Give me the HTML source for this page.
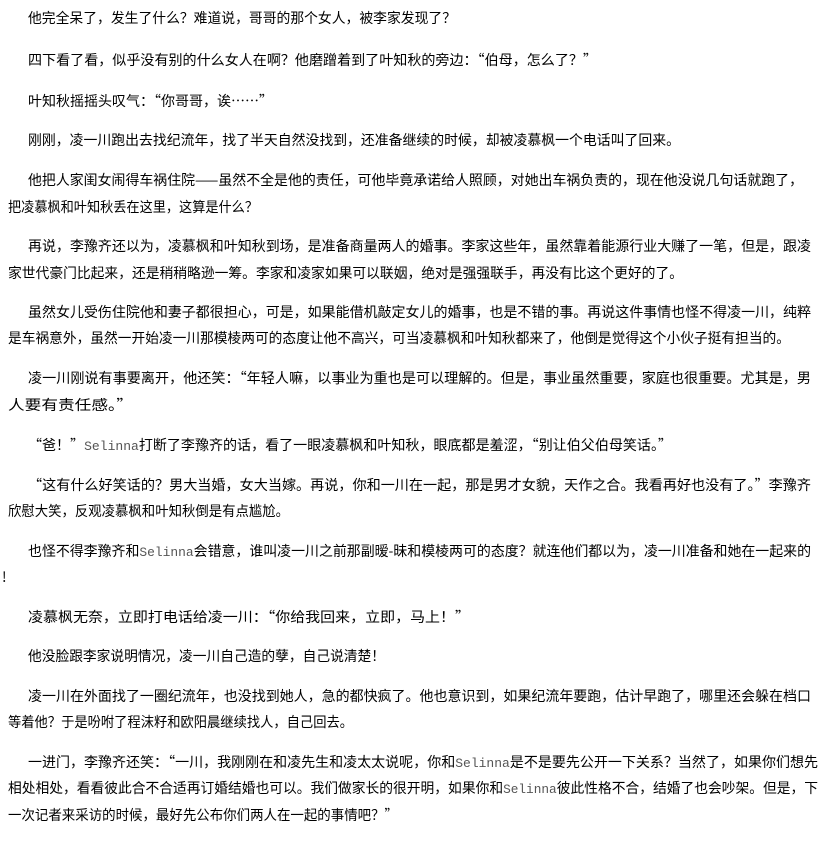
<!DOCTYPE html>
<html><head><meta charset="utf-8"><style>
html,body{margin:0;padding:0;background:#fff;width:835px;height:845px;overflow:hidden}
svg{display:block}
text{font-family:"Noto Sans CJK SC","WenQuanYi Zen Hei",sans-serif;font-size:14px;fill:#000}
.s{font-family:"Liberation Mono",monospace;font-size:13px;fill:#555}
</style></head><body>
<svg width="835" height="845" xmlns="http://www.w3.org/2000/svg">
<text x="28" y="23" textLength="428" lengthAdjust="spacingAndGlyphs">他完全呆了，发生了什么？难道说，哥哥的那个女人，被李家发现了？</text>
<text x="28" y="65" textLength="569" lengthAdjust="spacingAndGlyphs">四下看了看，似乎没有别的什么女人在啊？他磨蹭着到了叶知秋的旁边：“伯母，怎么了？”</text>
<text x="28" y="106" textLength="245" lengthAdjust="spacingAndGlyphs">叶知秋摇摇头叹气：“你哥哥，诶……”</text>
<text x="28" y="145" textLength="652" lengthAdjust="spacingAndGlyphs">刚刚，凌一川跑出去找纪流年，找了半天自然没找到，还准备继续的时候，却被凌慕枫一个电话叫了回来。</text>
<text x="28" y="185" textLength="775" lengthAdjust="spacingAndGlyphs">他把人家闺女闹得车祸住院——虽然不全是他的责任，可他毕竟承诺给人照顾，对她出车祸负责的，现在他没说几句话就跑了，</text>
<text x="8" y="212" textLength="250" lengthAdjust="spacingAndGlyphs">把凌慕枫和叶知秋丢在这里，这算是什么？</text>
<text x="28" y="251" textLength="783" lengthAdjust="spacingAndGlyphs">再说，李豫齐还以为，凌慕枫和叶知秋到场，是准备商量两人的婚事。李家这些年，虽然靠着能源行业大赚了一笔，但是，跟凌</text>
<text x="8" y="278" textLength="675" lengthAdjust="spacingAndGlyphs">家世代豪门比起来，还是稍稍略逊一筹。李家和凌家如果可以联姻，绝对是强强联手，再没有比这个更好的了。</text>
<text x="28" y="317" textLength="783" lengthAdjust="spacingAndGlyphs">虽然女儿受伤住院他和妻子都很担心，可是，如果能借机敲定女儿的婚事，也是不错的事。再说这件事情也怪不得凌一川，纯粹</text>
<text x="8" y="343" textLength="782" lengthAdjust="spacingAndGlyphs">是车祸意外，虽然一开始凌一川那模棱两可的态度让他不高兴，可当凌慕枫和叶知秋都来了，他倒是觉得这个小伙子挺有担当的。</text>
<text x="28" y="383" textLength="783" lengthAdjust="spacingAndGlyphs">凌一川刚说有事要离开，他还笑：“年轻人嘛，以事业为重也是可以理解的。但是，事业虽然重要，家庭也很重要。尤其是，男</text>
<text x="8" y="410" textLength="125" lengthAdjust="spacingAndGlyphs">人要有责任感。”</text>
<text x="28" y="450" textLength="644" lengthAdjust="spacingAndGlyphs">“爸！”<tspan class="s">Selinna</tspan>打断了李豫齐的话，看了一眼凌慕枫和叶知秋，眼底都是羞涩，“别让伯父伯母笑话。”</text>
<text x="28" y="490" textLength="783" lengthAdjust="spacingAndGlyphs">“这有什么好笑话的？男大当婚，女大当嫁。再说，你和一川在一起，那是男才女貌，天作之合。我看再好也没有了。”李豫齐</text>
<text x="8" y="516" textLength="281" lengthAdjust="spacingAndGlyphs">欣慰大笑，反观凌慕枫和叶知秋倒是有点尴尬。</text>
<text x="28" y="556" textLength="783" lengthAdjust="spacingAndGlyphs">也怪不得李豫齐和<tspan class="s">Selinna</tspan>会错意，谁叫凌一川之前那副暧-昧和模棱两可的态度？就连他们都以为，凌一川准备和她在一起来的</text>
<text x="2" y="582">!</text>
<text x="28" y="622" textLength="442" lengthAdjust="spacingAndGlyphs">凌慕枫无奈，立即打电话给凌一川：“你给我回来，立即，马上！”</text>
<text x="28" y="661" textLength="357" lengthAdjust="spacingAndGlyphs">他没脸跟李家说明情况，凌一川自己造的孽，自己说清楚！</text>
<text x="28" y="701" textLength="783" lengthAdjust="spacingAndGlyphs">凌一川在外面找了一圈纪流年，也没找到她人，急的都快疯了。他也意识到，如果纪流年要跑，估计早跑了，哪里还会躲在档口</text>
<text x="8" y="727" textLength="345" lengthAdjust="spacingAndGlyphs">等着他？于是吩咐了程沫籽和欧阳晨继续找人，自己回去。</text>
<text x="28" y="767" textLength="790" lengthAdjust="spacingAndGlyphs">一进门，李豫齐还笑：“一川，我刚刚在和凌先生和凌太太说呢，你和<tspan class="s">Selinna</tspan>是不是要先公开一下关系？当然了，如果你们想先</text>
<text x="8" y="793" textLength="810" lengthAdjust="spacingAndGlyphs">相处相处，看看彼此合不合适再订婚结婚也可以。我们做家长的很开明，如果你和<tspan class="s">Selinna</tspan>彼此性格不合，结婚了也会吵架。但是，下</text>
<text x="8" y="820" textLength="390" lengthAdjust="spacingAndGlyphs">一次记者来采访的时候，最好先公布你们两人在一起的事情吧？”</text>
</svg>
</body></html>
